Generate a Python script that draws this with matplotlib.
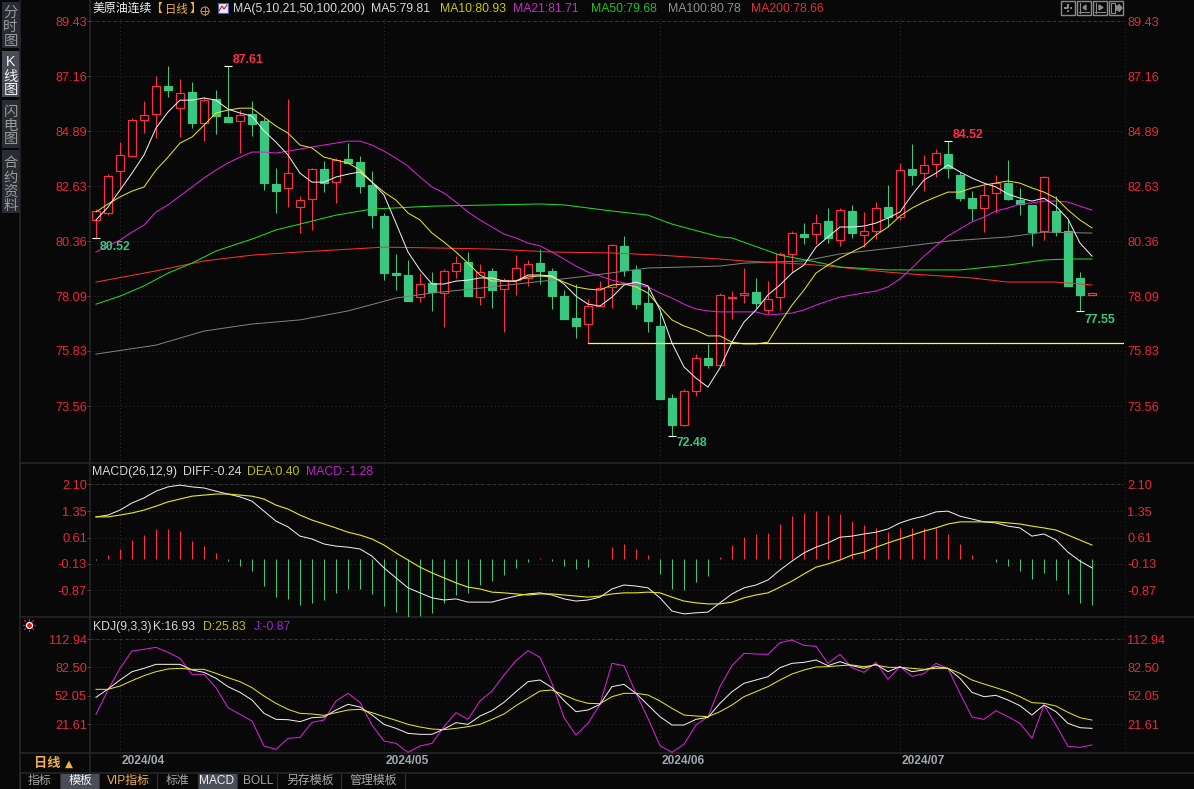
import matplotlib
matplotlib.use("Agg")
import matplotlib.pyplot as plt
from matplotlib.patches import Rectangle

plt.rcParams["font.family"] = ["Liberation Sans", "Noto Sans CJK SC", "DejaVu Sans"]

# ---------------------------------------------------------
# data
# ---------------------------------------------------------
opens = [81.23, 81.52, 83.25, 83.87, 85.35, 85.60, 86.75, 85.84, 86.50, 85.23, 86.22, 85.47, 85.31, 85.60,
         85.31, 82.71, 82.55, 81.76, 82.09, 83.33, 82.79, 83.74, 83.62, 82.67, 81.39, 79.04, 78.96, 78.05,
         78.63, 78.22, 79.13, 79.50, 78.05, 79.13, 78.38, 78.75, 78.84, 79.45, 79.13, 78.09, 77.19, 76.94,
         77.68, 78.47, 80.16, 79.17, 77.81, 76.86, 73.89, 72.78, 74.18, 75.54, 75.25, 78.01, 78.14, 78.26,
         77.52, 78.05, 79.83, 80.65, 80.65, 81.19, 80.40, 81.60, 80.61, 80.77, 81.76, 81.35, 83.33, 83.16,
         83.54, 83.95, 83.08, 82.13, 81.72, 82.34, 82.75, 82.05, 81.85, 80.77, 81.60, 80.77, 78.84, 78.14]
highs = [81.68, 83.12, 84.44, 85.43, 86.13, 87.16, 87.58, 87.04, 86.92, 86.30, 86.59, 87.58, 85.76, 86.13,
         85.43, 83.37, 86.22, 82.22, 83.37, 83.66, 83.78, 84.40, 83.87, 83.25, 81.52, 79.83, 79.58, 79.04,
         79.08, 79.21, 79.74, 79.91, 79.41, 79.25, 78.84, 79.78, 79.58, 80.03, 79.25, 78.34, 78.59, 77.97,
         78.71, 80.24, 80.57, 79.37, 78.47, 77.44, 74.06, 74.26, 75.70, 76.12, 78.22, 78.30, 79.25, 78.84,
         78.71, 79.91, 80.77, 81.10, 81.47, 81.72, 81.72, 81.85, 81.56, 81.97, 82.67, 83.58, 84.36, 83.91,
         84.15, 84.48, 83.21, 82.42, 82.67, 83.08, 83.70, 82.55, 81.85, 83.04, 82.22, 81.27, 79.08, 78.22]
lows = [80.49, 81.43, 82.55, 83.82, 84.81, 84.61, 86.30, 84.65, 85.02, 84.48, 84.77, 85.27, 83.99, 84.69,
        82.46, 81.52, 81.76, 80.69, 80.82, 82.38, 81.93, 83.58, 82.34, 80.90, 78.75, 78.34, 77.89, 77.85,
        77.48, 76.82, 78.84, 78.09, 77.72, 77.59, 76.61, 78.14, 78.51, 78.59, 77.56, 77.15, 76.36, 76.16,
        77.68, 77.60, 78.92, 77.56, 76.61, 73.85, 72.32, 72.74, 73.97, 75.13, 75.17, 77.15, 77.81, 77.60,
        77.35, 77.52, 79.08, 80.24, 80.24, 80.28, 80.16, 80.49, 80.11, 80.44, 80.94, 81.23, 82.67, 82.42,
        83.00, 82.96, 82.01, 81.19, 80.73, 81.52, 82.05, 81.43, 80.16, 80.40, 80.57, 78.51, 77.48, 78.14]
closes = [81.60, 83.04, 83.91, 85.35, 85.56, 86.75, 86.59, 86.46, 85.23, 86.17, 85.51, 85.27, 85.56, 85.19,
          82.75, 82.42, 83.16, 82.05, 83.33, 82.75, 83.70, 83.58, 82.63, 81.43, 79.04, 78.96, 77.89, 78.59,
          78.26, 79.13, 79.45, 78.09, 79.08, 78.34, 78.75, 79.25, 79.41, 79.13, 78.09, 77.15, 76.86, 77.68,
          78.42, 80.20, 79.17, 77.76, 77.06, 73.85, 72.78, 74.18, 75.54, 75.25, 78.14, 78.05, 78.22, 77.81,
          77.97, 79.83, 80.69, 80.53, 81.10, 80.49, 81.64, 80.69, 80.77, 81.72, 81.35, 83.29, 83.08, 83.50,
          83.99, 83.37, 82.13, 81.72, 82.26, 82.75, 82.09, 81.89, 80.73, 83.00, 80.73, 78.51, 78.14, 78.22]

ma5 = [81.23, 81.76, 82.46, 83.16, 83.91, 85.02, 85.68, 86.17, 86.17, 86.26, 86.17, 85.80, 85.64, 85.51,
       84.90, 84.44, 83.91, 83.16, 82.79, 82.79, 83.00, 83.12, 83.21, 82.79, 82.26, 81.10, 79.91, 79.17,
       78.59, 78.59, 78.71, 78.75, 78.84, 78.84, 78.71, 78.71, 78.96, 78.96, 78.92, 78.59, 78.09, 77.76,
       77.68, 78.05, 78.55, 78.67, 78.51, 77.52, 76.16, 75.17, 74.71, 74.34, 75.13, 76.19, 77.02, 77.52,
       78.14, 78.55, 79.04, 79.37, 80.11, 80.53, 80.94, 80.94, 80.98, 81.10, 81.31, 81.56, 82.26, 82.88,
       83.16, 83.50, 83.21, 82.96, 82.75, 82.59, 82.30, 82.13, 82.01, 82.13, 81.80, 81.27, 80.28, 79.74]
ma10 = [81.56, 81.89, 82.18, 82.42, 82.59, 83.29, 83.82, 84.40, 84.65, 85.14, 85.64, 85.76, 85.84, 85.84,
        85.47, 85.10, 84.81, 84.32, 84.20, 83.82, 83.70, 83.58, 83.29, 82.79, 82.38, 82.05, 81.52, 81.23,
        80.69, 80.32, 79.91, 79.45, 78.96, 78.71, 78.71, 78.71, 78.88, 78.92, 78.88, 78.67, 78.47, 78.38,
        78.34, 78.55, 78.59, 78.47, 78.22, 77.64, 77.11, 76.86, 76.69, 76.45, 76.45, 76.19, 76.12, 76.12,
        76.19, 76.98, 77.72, 78.34, 79.04, 79.37, 79.66, 79.91, 80.16, 80.61, 80.94, 81.39, 81.72, 81.97,
        82.18, 82.38, 82.38, 82.55, 82.67, 82.75, 82.84, 82.75, 82.55, 82.38, 82.13, 81.64, 81.23, 80.90]
ma21 = [79.91, 80.16, 80.40, 80.73, 81.02, 81.56, 81.85, 82.22, 82.59, 82.96, 83.29, 83.58, 83.82, 84.03,
        84.03, 83.99, 84.07, 84.15, 84.24, 84.32, 84.40, 84.48, 84.48, 84.32, 84.07, 83.78, 83.45, 83.00,
        82.59, 82.34, 81.97, 81.56, 81.23, 80.94, 80.65, 80.49, 80.28, 80.16, 79.91, 79.62, 79.33, 79.08,
        78.92, 78.75, 78.63, 78.55, 78.47, 78.22, 78.01, 77.76, 77.56, 77.48, 77.44, 77.44, 77.44, 77.44,
        77.31, 77.35, 77.39, 77.52, 77.72, 77.89, 78.05, 78.14, 78.22, 78.30, 78.47, 78.80, 79.25, 79.74,
        80.16, 80.57, 80.86, 81.15, 81.35, 81.60, 81.72, 81.89, 81.93, 82.01, 82.01, 81.97, 81.80, 81.64]

ma50_idx = [0, 2, 4, 6, 8, 10, 12, 13, 15, 17, 20, 23, 28, 37, 39, 43, 46, 48, 52, 53, 57, 60, 62, 66, 72, 76, 79, 81, 83]
ma50 = [77.76, 78.09, 78.51, 79.04, 79.45, 79.95, 80.28, 80.44, 80.82, 81.06, 81.43, 81.68, 81.80, 81.89, 81.85,
        81.60, 81.43, 81.06, 80.53, 80.49, 79.78, 79.50, 79.29, 79.17, 79.17, 79.37, 79.58, 79.62, 79.62]
ma100_idx = [0, 5, 9, 13, 17, 21, 25, 28, 32, 38, 41, 46, 52, 54, 59, 62, 67, 71, 76, 79, 83]
ma100 = [75.70, 76.07, 76.65, 76.94, 77.11, 77.48, 78.01, 78.22, 78.42, 78.75, 78.92, 79.25, 79.33, 79.45, 79.54,
         79.83, 80.11, 80.36, 80.53, 80.73, 80.69]
ma200_idx = [0, 5, 9, 13, 17, 24, 29, 33, 38, 43, 47, 52, 54, 59, 61, 66, 68, 73, 76, 80, 83]
ma200 = [78.67, 79.13, 79.54, 79.78, 79.91, 80.11, 80.07, 80.03, 79.91, 79.87, 79.78, 79.62, 79.54, 79.41, 79.33,
         79.08, 79.00, 78.84, 78.67, 78.67, 78.55]

diff = [1.19, 1.24, 1.38, 1.58, 1.72, 1.91, 2.03, 2.08, 2.03, 2.00, 1.91, 1.83, 1.75, 1.63, 1.35, 1.07, 0.91, 0.65,
        0.57, 0.43, 0.37, 0.34, 0.29, 0.09, -0.24, -0.52, -0.80, -0.94, -1.08, -1.14, -1.11, -1.20, -1.20, -1.20,
        -1.11, -1.03, -0.97, -0.94, -1.00, -1.11, -1.17, -1.14, -1.06, -0.83, -0.72, -0.75, -0.80, -1.08, -1.45,
        -1.53, -1.50, -1.48, -1.22, -0.97, -0.80, -0.72, -0.58, -0.30, -0.05, 0.18, 0.34, 0.46, 0.62, 0.65, 0.71,
        0.76, 0.85, 1.02, 1.13, 1.21, 1.33, 1.35, 1.21, 1.13, 1.05, 1.02, 0.93, 0.88, 0.65, 0.71, 0.54, 0.20, -0.05, -0.24]
dea = [1.19, 1.19, 1.24, 1.30, 1.38, 1.49, 1.61, 1.69, 1.77, 1.80, 1.83, 1.83, 1.80, 1.77, 1.69, 1.52, 1.41, 1.24,
       1.10, 0.99, 0.88, 0.76, 0.68, 0.57, 0.40, 0.18, -0.02, -0.22, -0.38, -0.52, -0.66, -0.78, -0.83, -0.92, -0.94,
       -0.97, -1.00, -0.97, -0.97, -1.00, -1.03, -1.06, -1.03, -0.97, -0.94, -0.94, -0.92, -0.94, -1.06, -1.17, -1.22,
       -1.25, -1.25, -1.20, -1.08, -1.00, -0.94, -0.78, -0.61, -0.41, -0.22, -0.13, -0.02, 0.12, 0.20, 0.34, 0.46,
       0.57, 0.68, 0.79, 0.88, 0.99, 1.05, 1.05, 1.05, 1.05, 1.02, 0.99, 0.93, 0.88, 0.82, 0.68, 0.54, 0.40]
macd = [-0.02, 0.12, 0.29, 0.54, 0.68, 0.85, 0.85, 0.79, 0.51, 0.37, 0.18, -0.05, -0.19, -0.33, -0.75, -1.06, -1.11,
        -1.28, -1.22, -1.14, -0.94, -0.83, -0.83, -0.97, -1.31, -1.48, -1.62, -1.59, -1.50, -1.22, -1.00, -0.94, -0.72,
        -0.61, -0.44, -0.24, -0.08, 0.04, -0.05, -0.19, -0.27, -0.22, 0.02, 0.34, 0.43, 0.29, 0.12, -0.41, -0.83, -0.86,
        -0.64, -0.46, 0.06, 0.40, 0.62, 0.71, 0.74, 0.99, 1.21, 1.30, 1.35, 1.24, 1.27, 1.07, 0.96, 0.88, 0.76, 0.88,
        0.88, 0.88, 0.88, 0.71, 0.43, 0.12, 0.02, -0.08, -0.19, -0.34, -0.55, -0.38, -0.58, -0.97, -1.22, -1.28]

kdj_k = [50.26, 59.21, 68.88, 77.84, 81.42, 85.72, 85.72, 85.72, 79.63, 77.12, 70.67, 61.72, 55.63, 47.39, 33.06,
         26.62, 26.26, 24.11, 28.40, 29.12, 36.64, 42.73, 39.87, 31.27, 21.24, 16.94, 11.57, 10.50, 10.50, 16.22,
         23.03, 21.24, 30.20, 35.93, 44.88, 56.34, 67.09, 68.88, 60.64, 46.67, 34.85, 36.64, 42.73, 61.72, 64.22,
         54.55, 42.02, 29.48, 20.52, 20.52, 26.62, 28.76, 43.81, 56.34, 65.30, 68.88, 72.46, 82.14, 86.79, 87.87,
         90.37, 84.28, 88.58, 84.28, 81.42, 85.72, 77.84, 83.21, 77.84, 79.63, 83.21, 81.42, 70.67, 55.63, 50.97,
         52.40, 47.39, 41.30, 31.27, 42.02, 34.85, 22.32, 17.66, 16.93]
kdj_d = [58.85, 58.85, 62.43, 68.17, 73.54, 77.84, 80.70, 81.42, 80.34, 80.34, 76.05, 71.39, 67.09, 60.64, 51.69,
         43.81, 37.36, 33.06, 32.35, 30.91, 33.78, 36.64, 37.36, 33.78, 29.48, 25.54, 21.24, 18.38, 16.22, 15.51,
         16.94, 18.73, 21.24, 26.62, 32.35, 41.30, 49.18, 57.06, 58.14, 52.76, 47.39, 43.81, 43.45, 50.97, 54.55,
         54.55, 52.76, 46.31, 38.43, 31.27, 30.20, 29.48, 34.85, 42.02, 50.97, 56.34, 61.72, 68.88, 75.33, 79.63,
         82.85, 83.21, 84.28, 85.00, 83.21, 85.00, 82.49, 82.49, 81.42, 80.34, 81.42, 81.42, 76.05, 68.88, 64.58,
         60.64, 56.34, 50.97, 44.52, 43.81, 40.94, 34.14, 28.40, 25.83]
kdj_j = [32.00, 58.14, 81.42, 100.04, 101.84, 103.98, 98.61, 92.17, 74.97, 74.97, 60.64, 39.15, 32.00, 24.82, -2.04,
         -5.62, 6.20, 7.27, 23.39, 25.90, 46.31, 54.55, 44.88, 20.52, 3.33, 0.82, -8.85, -2.04, 0.82, 18.73, 33.78,
         26.62, 46.31, 57.06, 74.26, 89.66, 100.40, 93.24, 65.30, 28.40, 9.78, 22.32, 42.73, 86.79, 84.28, 54.55,
         27.69, -1.68, -8.85, -0.25, 20.52, 29.48, 61.72, 84.28, 97.54, 96.82, 96.46, 109.00, 111.87, 106.13, 105.06,
         86.79, 96.46, 82.14, 77.12, 87.87, 69.60, 83.21, 72.82, 75.69, 86.79, 81.42, 54.55, 29.12, 26.62, 35.93,
         29.48, 22.32, 6.20, 42.02, 20.52, -2.40, -3.48, -0.87]

price_ticks = [89.43, 87.16, 84.89, 82.63, 80.36, 78.09, 75.83, 73.56]
macd_ticks = [2.10, 1.35, 0.61, -0.13, -0.87]
kdj_ticks = [112.94, 82.50, 52.05, 21.61]
month_idx = [2, 24, 47, 67]
month_labels = ["2024/04", "2024/05", "2024/06", "2024/07"]
support_idx = [41, 85.67]
support_val = [76.16, 76.16]

BG = "#080808"
RED = "#FF2D45"
GREEN = "#3AC880"
TICK_RED = "#E8283C"
GRID = "#303030"
SEP = "#262626"
LW = 0.72  # one pixel at dpi 100


# ---------------------------------------------------------
# helpers
# ---------------------------------------------------------
def panel(top, bottom, ylim, ticks):
    # panel placed by its pixel rows, same x range for all three
    a = fig.add_axes([90 / 1194, 1 - bottom / 789, (1124 - 90) / 1194, (bottom - top) / 789])
    a.set_facecolor("none")
    a.set_xlim(-0.5, 85.67)
    a.set_ylim(*ylim)
    a.set_xticks(month_idx)
    a.set_xticklabels([])
    a.set_yticks(ticks)
    a.set_yticklabels([f"{t:.2f}" for t in ticks])
    a.tick_params(axis="x", length=0)
    a.tick_params(axis="y", length=2, width=0.7, color="#444444", labelcolor=TICK_RED, labelsize=9.2,
                  left=True, right=False, labelleft=True, labelright=True, pad=0.2)
    a.grid(True, color=GRID, lw=0.7, linestyle=(0, (1, 3)))
    a.axhline(ticks[0], color="#3a3a3a", lw=0.7, linestyle=(0, (3, 3)))
    a.set_axisbelow(True)
    for s in a.spines.values():
        s.set_visible(False)
    return a


def header(a, items, y):
    for x, txt, col in items:
        a.text(x, y, txt, color=col, fontsize=8.8, va="center", ha="left")


fig = plt.figure(figsize=(11.94, 7.89), dpi=100, facecolor=BG)

# chrome layer in pixel coordinates
ui = fig.add_axes([0, 0, 1, 1])
ui.set_xlim(0, 1194)
ui.set_ylim(789, 0)
ui.axis("off")

for y in [463, 617, 753, 773]:
    ui.plot([20, 1194], [y, y], color=SEP, lw=1.2)
ui.plot([20, 20], [0, 789], color=SEP, lw=1.2)
ui.plot([90, 90], [0, 773], color=SEP, lw=1.2)
ui.plot([1124.5, 1124.5], [16, 753], color="#262626", lw=0.7, linestyle=(0, (1, 3)))

# left side tabs
tabs = [(2, 48, "#2A2C33", [(13, "分"), (27, "时"), (41, "图")], "#9A9A9A"),
        (51, 97, "#494C55", [(62, "K"), (77, "线"), (90, "图")], "#F0F0F0"),
        (100, 148, "#2A2C33", [(112, "闪"), (126, "电"), (139, "图")], "#9A9A9A"),
        (150, 213, "#2A2C33", [(163, "合"), (178, "约"), (192, "资"), (206, "料")], "#9A9A9A")]
for y0, y1, fill, chars, col in tabs:
    ui.add_patch(Rectangle((2, y0), 18, y1 - y0, facecolor=fill, edgecolor="none"))
    for y, ch in chars:
        ui.text(10.5, y, ch, color=col, fontsize=10.3, ha="center", va="center")

# title row
ui.text(92, 9, "美原油连续", color="#F0F0F0", fontsize=8.6, va="center")
ui.text(150, 9, "【", color="#F0B050", fontsize=8.6, va="center")
ui.text(165, 9, "日线", color="#F0B050", fontsize=8.2, va="center")
ui.text(190, 9, "】", color="#F0B050", fontsize=8.6, va="center")
ui.add_patch(plt.Circle((205, 11), 4, fill=False, edgecolor="#C09040", lw=0.8))
ui.plot([201, 209], [11, 11], color="#C09040", lw=0.7)
ui.plot([205, 205], [7, 15], color="#C09040", lw=0.7)
ui.add_patch(Rectangle((218, 3), 10, 10, facecolor="#E8E8F8", edgecolor="#4060C0", lw=0.8))
ui.plot([219, 222, 224, 227], [11, 6, 9, 5], color="#D02020", lw=0.8)
header(ui, [(233, "MA(5,10,21,50,100,200)", "#D8D8D8"), (371, "MA5:79.81", "#D8D8D8"),
            (440, "MA10:80.93", "#C8C800"), (513, "MA21:81.71", "#C030C0"),
            (591, "MA50:79.68", "#20C020"), (668, "MA100:80.78", "#909090"),
            (751, "MA200:78.66", "#E03030")], 9)
header(ui, [(92, "MACD(26,12,9)", "#D8D8D8"), (183, "DIFF:-0.24", "#D8D8D8"),
            (247, "DEA:0.40", "#C0C000"), (306, "MACD:-1.28", "#C020D0")], 472)
header(ui, [(93, "KDJ(9,3,3)", "#D8D8D8"), (153, "K:16.93", "#D8D8D8"),
            (203, "D:25.83", "#C0C000"), (254, "J:-0.87", "#A020E0")], 627)

# toolbar icons top right
for x0 in [1061, 1077, 1093, 1109]:
    ui.add_patch(Rectangle((x0, 1), 14, 14, facecolor="none", edgecolor="#8A8A8A", lw=1))
ui.plot([1064, 1072], [8, 8], color="#8A8A8A", lw=1.5, linestyle=(0, (2, 1)))
ui.plot([1068, 1068], [4, 12], color="#8A8A8A", lw=1.5, linestyle=(0, (2, 1)))
ui.plot([1079, 1089], [12, 12], color="#8A8A8A", lw=0.8)
ui.plot([1095, 1105], [12, 12], color="#8A8A8A", lw=0.8)
ui.plot([1079.5, 1079.5], [3, 13], color="#8A8A8A", lw=0.8)
ui.plot([1095.5, 1095.5], [3, 13], color="#8A8A8A", lw=0.8)
ui.add_patch(plt.Polygon([[1086, 5], [1086, 10], [1083, 7.5]], color="#8A8A8A"))
ui.add_patch(plt.Polygon([[1099, 5], [1099, 10], [1103, 7.5]], color="#8A8A8A"))
ui.add_patch(Rectangle((1111, 3), 4, 10, facecolor="none", edgecolor="#8A8A8A", lw=0.8))
ui.add_patch(plt.Polygon([[1116, 6], [1119, 6], [1119, 4.5], [1122, 8], [1119, 11.5], [1119, 10], [1116, 10]],
                         color="#8A8A8A"))

# KDJ blinking mark
ui.plot([29], [625], "o", ms=4.2, mfc="white", mec="white")
ui.plot([29], [625], "o", ms=2.4, mfc="#E01010", mec="#E01010")
for dx, dy in [(-6, 0), (6, 0), (0, -6), (0, 6), (-4.5, -4.5), (4.5, 4.5), (-4.5, 4.5), (4.5, -4.5)]:
    ui.plot([29 + dx * 0.75, 29 + dx], [625 + dy * 0.75, 625 + dy], color="#E02020", lw=0.8)

# bottom strip
ui.text(34, 764, "日线", color="#F0B050", fontsize=9.5, va="center", fontweight="bold")
ui.text(69, 764, "▲", color="#F0B050", fontsize=7.5, va="center", ha="center", family="DejaVu Sans")
for x, lab in zip(month_idx, month_labels):
    ui.text(96 + 12 * x + 2, 761, lab, color="#A0A8B0", fontsize=8.6, va="center", fontweight="bold")

ui.add_patch(Rectangle((60, 774), 39, 15, facecolor="#4A4C58", edgecolor="none"))
ui.add_patch(Rectangle((198, 774), 39, 15, facecolor="#4A4C58", edgecolor="none"))
for x in [20, 60, 99, 157, 198, 237, 277, 341, 405]:
    ui.plot([x, x], [774, 789], color="#303030", lw=0.8)
bottom_tabs = [(40, "指标", "#A8A8A8"), (80, "模板", "#F0F0F0"), (128, "VIP指标", "#F0B050"), (178, "标准", "#A8A8A8"),
               (217, "MACD", "#F0F0F0"), (258, "BOLL", "#A8A8A8"), (310, "另存模板", "#A8A8A8"), (373, "管理模板", "#A8A8A8")]
for x, lab, col in bottom_tabs:
    ui.text(x, 781, lab, color=col, fontsize=8.6, ha="center", va="center")

# ---------------------------------------------------------
# 1. Candles with moving averages
# ---------------------------------------------------------
ax = panel(16, 463, (71.21, 89.64), price_ticks)
xs = list(range(len(closes)))

for i in xs:
    up = closes[i] >= opens[i]
    col = RED if up else GREEN
    top = max(opens[i], closes[i])
    bot = min(opens[i], closes[i])
    ax.vlines(i, lows[i], highs[i], color=col, lw=LW, zorder=3)
    ax.add_patch(Rectangle((i - 0.34, bot), 0.68, top - bot, facecolor=BG if up else GREEN,
                           edgecolor=col, lw=0.85, zorder=4))

ax.plot(ma100_idx, ma100, color="#808080", lw=LW, zorder=5)
ax.plot(ma200_idx, ma200, color="#FF3030", lw=LW, zorder=5)
ax.plot(ma50_idx, ma50, color="#20E020", lw=LW, zorder=5)
ax.plot(xs, ma21, color="#E020E0", lw=LW, zorder=5)
ax.plot(xs, ma10, color="#E8E820", lw=LW, zorder=6)
ax.plot(xs, ma5, color="#F0F0F0", lw=LW, zorder=7)
ax.plot(support_idx, support_val, color="#FFFF40", lw=0.9, zorder=6)

# extreme marks
marks = [(11, 87.58, "87.61", RED, 5, 0), (71, 84.48, "84.52", RED, 5, 0),
         (0, 80.49, "80.52", GREEN, 4, -15), (48, 72.32, "72.48", GREEN, 5, -13),
         (82, 77.48, "77.55", GREEN, 5, -15)]
for i, y, txt, col, dx, dy in marks:
    ax.plot([i], [y], marker="_", ms=5.5, mew=0.8, color="white", zorder=8)
    ax.annotate(txt, xy=(i, y), xytext=(dx, dy), textcoords="offset pixels", color=col,
                fontsize=8.8, fontweight="bold", ha="left", va="bottom", zorder=9)

# ---------------------------------------------------------
# 2. MACD
# ---------------------------------------------------------
ax2 = panel(463, 617, (-1.617, 2.70), macd_ticks)
ax2.vlines(xs, 0, macd, colors=[RED if v > 0 else GREEN for v in macd], lw=LW, zorder=3)
ax2.plot(xs, diff, color="#F0F0F0", lw=LW, zorder=5)
ax2.plot(xs, dea, color="#E8E820", lw=0.8, zorder=5)

# ---------------------------------------------------------
# 3. KDJ
# ---------------------------------------------------------
ax3 = panel(617, 753, (-9.55, 136.58), kdj_ticks)
ax3.plot(xs, kdj_j, color="#E020E0", lw=LW, zorder=4)
ax3.plot(xs, kdj_k, color="#F0F0F0", lw=LW, zorder=5)
ax3.plot(xs, kdj_d, color="#E8E820", lw=LW, zorder=5)

fig.savefig("out.png", dpi=100, facecolor=BG)
print("Saved: out.png")
